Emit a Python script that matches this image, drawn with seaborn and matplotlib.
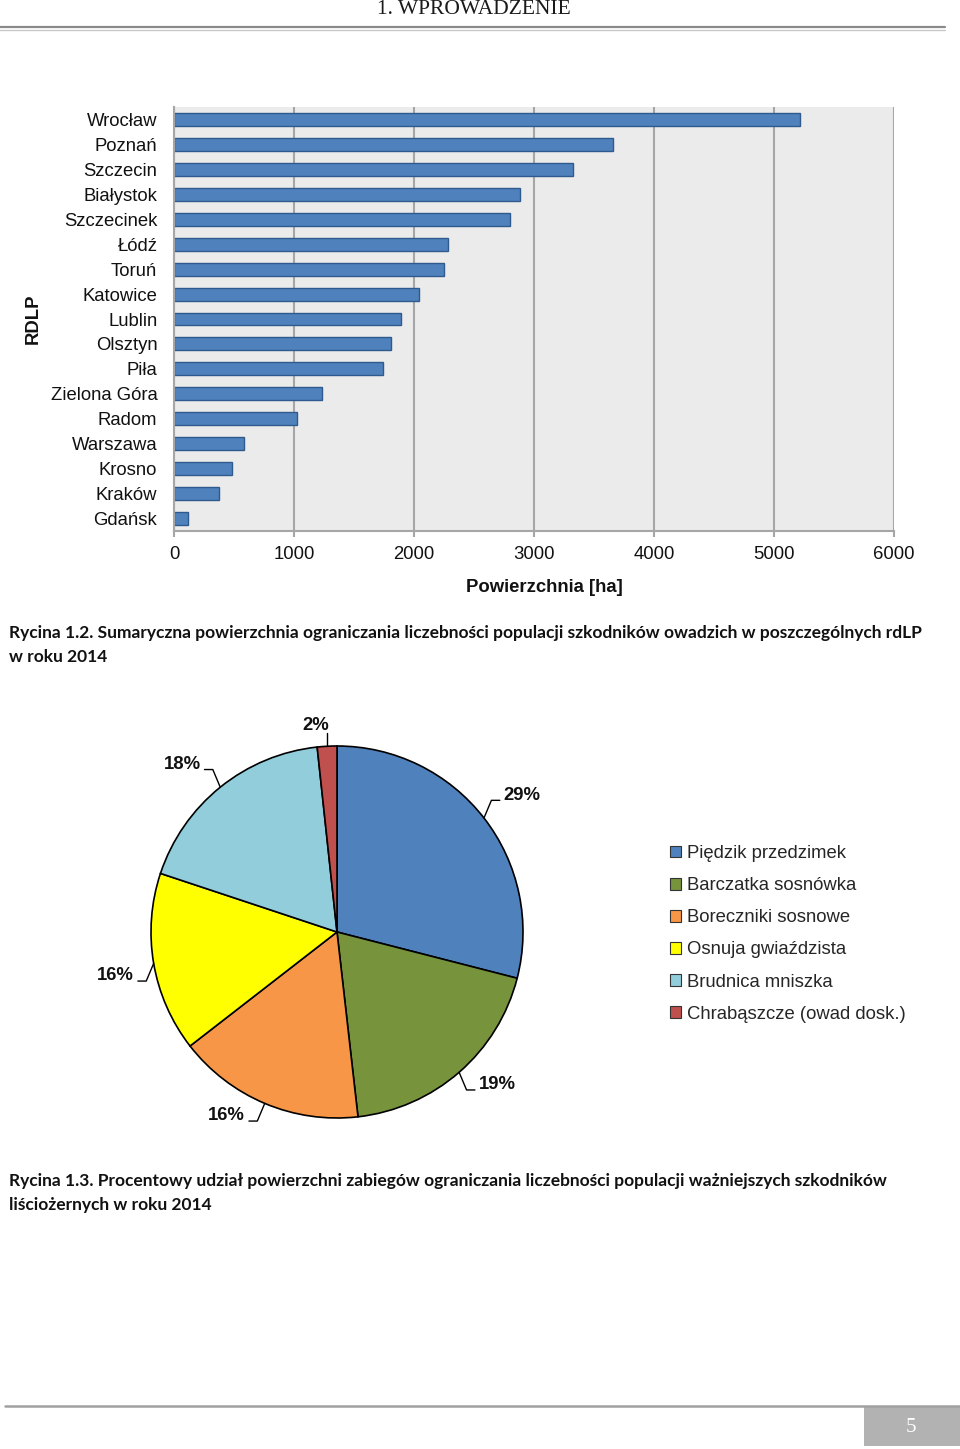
import numpy as np
import matplotlib
matplotlib.use("Agg")
import matplotlib.pyplot as plt
from matplotlib.patches import Patch, Rectangle
from matplotlib.lines import Line2D
import seaborn as sns

# Rycina 1.2 - powierzchnia wg rdLP [ha]
rdlp = ["Wrocław", "Poznań", "Szczecin", "Białystok", "Szczecinek", "Łódź", "Toruń",
        "Katowice", "Lublin", "Olsztyn", "Piła", "Zielona Góra", "Radom", "Warszawa",
        "Krosno", "Kraków", "Gdańsk"]
area_ha = [5219, 3655, 3322, 2883, 2800, 2286, 2250, 2044, 1892, 1811, 1742, 1230,
           1022, 586, 483, 378, 113]
x_ticks = [0, 1000, 2000, 3000, 4000, 5000, 6000]

# Rycina 1.3 - udzial procentowy szkodnikow
pests = ["Piędzik przedzimek", "Barczatka sosnówka", "Boreczniki sosnowe",
         "Osnuja gwiaździsta", "Brudnica mniszka", "Chrabąszcze (owad dosk.)"]
share = [29.0, 19.2, 16.3, 15.6, 18.2, 1.7]
pest_colors = ["#4F81BD", "#77933C", "#F79646", "#FFFF00", "#92CDDC", "#C0504D"]

caption_12 = ("Rycina 1.2. Sumaryczna powierzchnia ograniczania liczebności populacji "
              "szkodników owadzich w poszczególnych rdLP")
caption_12b = "w roku 2014"
caption_13 = ("Rycina 1.3. Procentowy udział powierzchni zabiegów ograniczania liczebności "
              "populacji ważniejszych szkodników")
caption_13b = "liściożernych w roku 2014"

W, H = 960, 1449
sns.set_theme(style="white")
plt.rcParams["font.family"] = ["Liberation Sans", "DejaVu Sans"]
FS = 13.3

fig = plt.figure(figsize=(W / 100, H / 100), dpi=100)


def px_axes(x0, y0, x1, y1):
    # box in pixels, origin top-left
    return fig.add_axes([x0 / W, 1 - y1 / H, (x1 - x0) / W, (y1 - y0) / H])


def fy(y):
    return 1 - y / H


# --- header / footer of the page
fig.text(474 / W, fy(9), "1. WPROWADZENIE", ha="center", va="center",
         family="Liberation Serif", fontsize=15.5, color="#1a1a1a")
fig.add_artist(Line2D([0, 945 / W], [fy(27), fy(27)], color="#8a8a8a", lw=1.6))
fig.add_artist(Line2D([0, 945 / W], [fy(29.5), fy(29.5)], color="#c8c8c8", lw=1.0))
fig.add_artist(Line2D([5 / W, 1], [fy(1406), fy(1406)], color="#a0a0a0", lw=1.8))
fig.add_artist(Rectangle((864 / W, fy(1446)), 96 / W, 40 / H, transform=fig.transFigure,
                         facecolor="#B2B2B2", edgecolor="none"))
fig.text(911 / W, fy(1427), "5", ha="center", va="center", color="white",
         family="Liberation Serif", fontsize=15)

# --- bar chart
ax = px_axes(174, 107, 894, 531)
sns.barplot(x=area_ha, y=rdlp, orient="h", color="#4F81BD", saturation=1,
            edgecolor="#2E5A8E", linewidth=1, width=0.52, ax=ax)
ax.set_facecolor("#EBEBEB")
ax.set_xlim(0, 6000)
ax.set_xticks(x_ticks)
ax.grid(axis="x", color="#A6A6A6", linewidth=1.5)
ax.grid(axis="y", visible=False)
ax.set_axisbelow(True)
for s in ["top", "right"]:
    ax.spines[s].set_visible(False)
for s in ["left", "bottom"]:
    ax.spines[s].set_color("#A6A6A6")
    ax.spines[s].set_linewidth(1.5)
ax.tick_params(axis="y", length=0, pad=12, labelsize=FS, labelcolor="#111111")
ax.tick_params(axis="x", bottom=True, length=4, width=1.5, color="#A6A6A6",
               direction="out", pad=7, labelsize=FS, labelcolor="#111111")
ax.set_xlabel("")
ax.set_ylabel("")
fig.text(544 / W, fy(588), "Powierzchnia [ha]", ha="center", va="center",
         fontsize=FS, fontweight="bold", color="#111111")
fig.text(33 / W, fy(319), "RDLP", ha="center", va="center", rotation=90,
         fontsize=FS, fontweight="bold", color="#111111")

# captions
cap_kw = dict(ha="left", va="center", family=["Lato", "DejaVu Sans"],
              fontweight="bold", fontsize=12.55, color="#111111")
fig.text(9 / W, fy(633), caption_12, **cap_kw)
fig.text(9 / W, fy(657), caption_12b, **cap_kw)
fig.text(9 / W, fy(1181), caption_13, **cap_kw)
fig.text(9 / W, fy(1205), caption_13b, **cap_kw)

# --- pie chart
cx, cy, r = 337, 932, 186
pax = px_axes(cx - r, cy - r, cx + r, cy + r)
wedges, _ = pax.pie(share, colors=pest_colors, startangle=90, counterclock=False,
                    wedgeprops=dict(edgecolor="black", linewidth=1.2))
pax.set_xlim(-1, 1)
pax.set_ylim(-1, 1)

for w, val in zip(wedges, share):
    th = np.deg2rad((w.theta1 + w.theta2) / 2)
    ex, ey = np.cos(th), np.sin(th)
    lbl = f"{val:.0f}%"
    if abs(ex) < 0.2:
        pax.plot([ex, ex], [ey, 1.07], color="black", lw=1, clip_on=False)
        pax.text(ex + 0.01, 1.085, lbl, ha="right", va="baseline", fontsize=FS,
                 fontweight="bold", color="#111111")
        continue
    sx, sy = np.sign(ex), np.sign(ey)
    bx, by = ex + sx * 0.04, ey + sy * 0.095
    hx = bx + sx * 0.045
    pax.plot([ex, bx, hx], [ey, by, by], color="black", lw=1, clip_on=False)
    pax.text(hx + sx * 0.02, by + 0.004, lbl, ha="left" if sx > 0 else "right",
             va="baseline", fontsize=FS, fontweight="bold", color="#111111")

handles = [Patch(facecolor=c, edgecolor="#333333", linewidth=0.8) for c in pest_colors]
fig.legend(handles, pests, loc="upper left", bbox_to_anchor=(670 / W, fy(845)),
           frameon=False, fontsize=FS, handlelength=0.6, handleheight=0.6,
           handletextpad=0.3, labelspacing=0.82, borderaxespad=0, borderpad=0)

fig.savefig("out.png", dpi=100, facecolor="white")
